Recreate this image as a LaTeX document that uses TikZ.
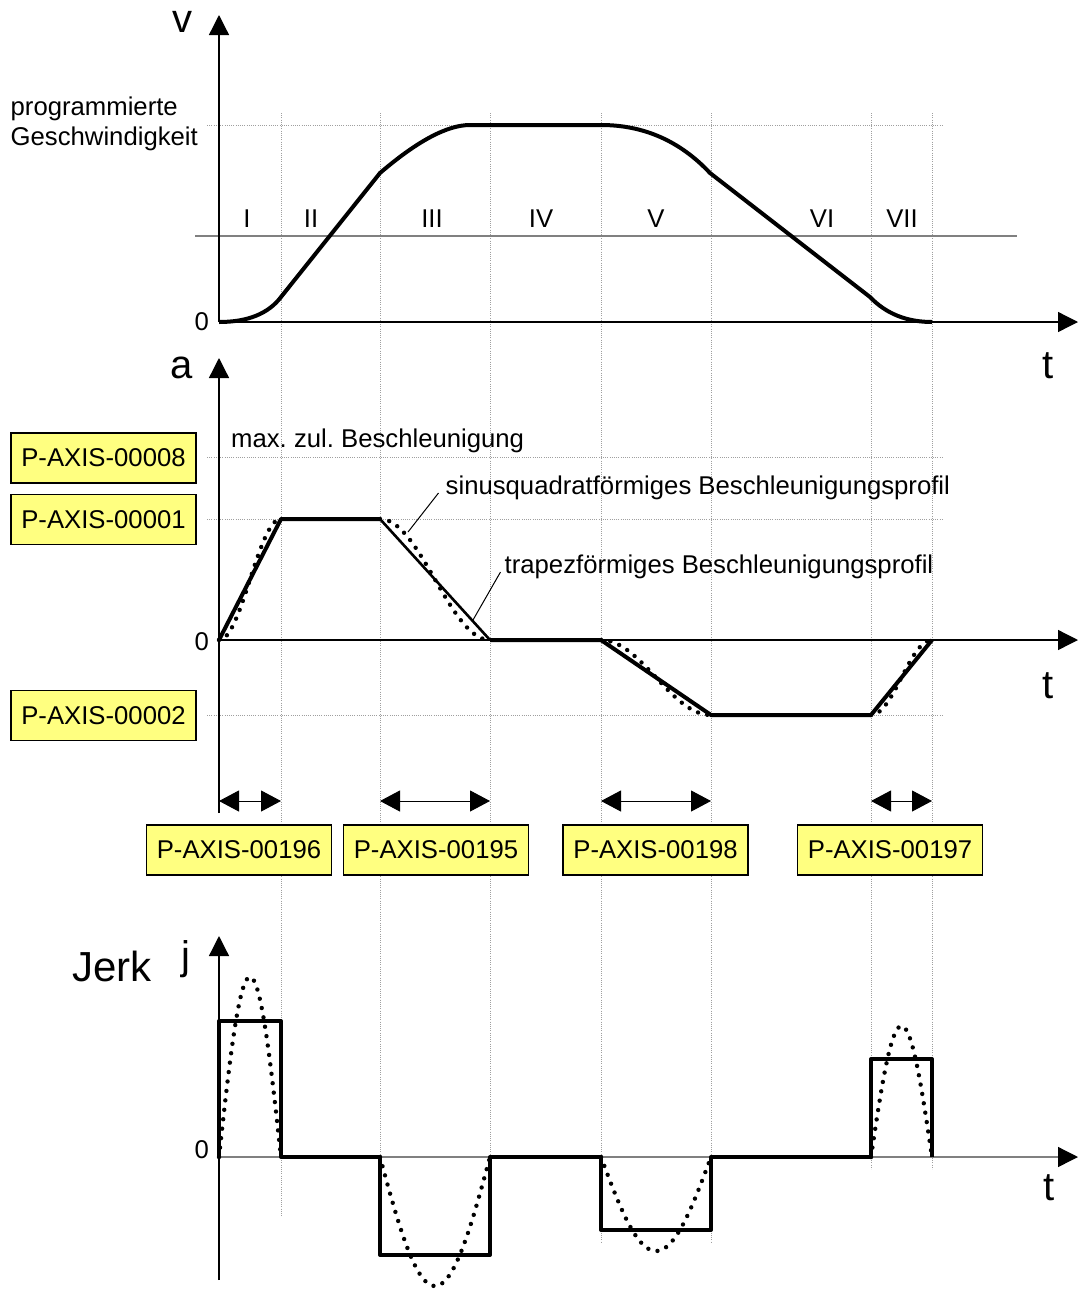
\documentclass[tikz,border=0pt]{standalone}
\usepackage{fontspec}
\setmainfont{Liberation Sans}
\usetikzlibrary{arrows.meta}
\definecolor{boxyellow}{RGB}{255,255,128}
\frenchspacing
\begin{document}
\begin{tikzpicture}[x=1bp,y=-1bp,
  txt/.style={font=\fontsize{25.7bp}{30bp}\selectfont, inner sep=0pt},
  big/.style={font=\fontsize{40bp}{48bp}\selectfont, inner sep=0pt},
  pbox/.style={draw=black, line width=1.2bp, fill=boxyellow, minimum width=185bp, minimum height=50bp, inner sep=0pt, font=\fontsize{25.7bp}{30bp}\selectfont},
  gridline/.style={gray!75, line width=0.8bp, dash pattern=on 1bp off 1.2bp},
  axisline/.style={line width=1.3bp, -{Triangle[length=20bp,width=20bp,color=black]}},
  heavy/.style={line width=4bp, line join=round},
  dots/.style={line width=4.4bp, line cap=round, dash pattern=on 0bp off 9.5bp},
  dimarr/.style={line width=1bp, {Triangle[length=20bp,width=21bp]}-{Triangle[length=20bp,width=21bp]}},
  leader/.style={line width=1bp}
]
\useasboundingbox (0,0) rectangle (1082,1289);

% vertical dotted grid lines
\foreach \gx/\ge in {281/1217,380/1255,490/1255,601/1243,711/1243,871/1169,932/1169}
  \draw[gridline] (\gx,113) -- (\gx,\ge);
% horizontal dotted lines
\coordinate (hA1) at (207,125); \coordinate (hA2) at (943,125);
\coordinate (hB1) at (207,457); \coordinate (hB2) at (943,457);
\coordinate (hC1) at (207,519); \coordinate (hC2) at (943,519);
\coordinate (hD1) at (207,715); \coordinate (hD2) at (943,715);
\draw[gridline] (hA1) -- (hA2);
\draw[gridline] (hB1) -- (hB2);
\draw[gridline] (hC1) -- (hC2);
\draw[gridline] (hD1) -- (hD2);
% gray mid line of v-diagram
\coordinate (g1) at (195,236); \coordinate (g2) at (1017,236);
\draw[gray, line width=1.5bp] (g1) -- (g2);

% axes
\coordinate (o1) at (219,322);
\coordinate (o2) at (219,640);
\coordinate (o3) at (219,1157);
\draw[axisline] (o1) -- (219,15);
\draw[axisline] (o1) -- (1078,322);
\draw[axisline] (219,813) -- (219,358);
\draw[axisline] (o2) -- (1078,640);
\draw[axisline] (219,1280) -- (219,936);
\draw[axisline, gray] (o3) -- (1078,1157);

% velocity curve
\draw[heavy] (219,322) .. controls (247.7,322) and (268.3,313.7) .. (281,297) -- (380,173)
  .. controls (417.3,141) and (447.3,125) .. (470,125) -- (601,125)
  .. controls (643.7,125) and (680,141) .. (710,173) -- (870,297)
  .. controls (886,313.7) and (906.7,322) .. (932,322);

% acceleration: trapezoid
\draw[heavy] (219,640) -- (281,519) -- (380,519);
\draw[line width=2.6bp] (380,519) -- (490,640);
\draw[heavy] (490,640) -- (601,640) -- (711,715) -- (871,715) -- (932,640);
% acceleration: sin^2
\draw[dots] plot[domain=0:1, samples=50] ({219+62*\x},{640-60.5*(1-cos(180*\x))});
\draw[dots] plot[domain=0:1, samples=50] ({380+110*\x},{519+60.5*(1-cos(180*\x))});
\draw[dots] plot[domain=0:1, samples=50] ({601+110*\x},{640+37.5*(1-cos(180*\x))});
\draw[dots] plot[domain=0:1, samples=50] ({871+61*\x},{715-37.5*(1-cos(180*\x))});

% jerk: rectangles
\draw[heavy] (219,1157) -- (219,1021) -- (281,1021) -- (281,1157) -- (380,1157)
  -- (380,1255) -- (490,1255) -- (490,1157) -- (601,1157) -- (601,1230)
  -- (711,1230) -- (711,1157) -- (871,1157) -- (871,1059) -- (932,1059) -- (932,1157);
% jerk: sine
\draw[dots] plot[domain=0:1, samples=50] ({219+62*\x},{1157-180*sin(180*\x)});
\draw[dots] plot[domain=0:1, samples=50] ({380+110*\x},{1157+129*sin(180*\x)});
\draw[dots] plot[domain=0:1, samples=50] ({601+110*\x},{1157+94*sin(180*\x)});
\draw[dots] plot[domain=0:1, samples=50] ({871+61*\x},{1157-131*sin(180*\x)});

% dimension arrows
\coordinate (d1a) at (219,801); \coordinate (d1b) at (281,801);
\coordinate (d2a) at (380,801); \coordinate (d2b) at (490,801);
\coordinate (d3a) at (601,801); \coordinate (d3b) at (711,801);
\coordinate (d4a) at (871,801); \coordinate (d4b) at (932,801);
\draw[dimarr] (d1a) -- (d1b);
\draw[dimarr] (d2a) -- (d2b);
\draw[dimarr] (d3a) -- (d3b);
\draw[dimarr] (d4a) -- (d4b);

% parameter boxes
\node[pbox] (p8) at (103.5,458) {P-AXIS-00008};
\node[pbox] (p1) at (103.5,519.5) {P-AXIS-00001};
\node[pbox] (p2) at (103.5,715.5) {P-AXIS-00002};
\node[pbox] (p196) at (239,850) {P-AXIS-00196};
\node[pbox] (p195) at (436,850) {P-AXIS-00195};
\node[pbox] (p198) at (655.5,850) {P-AXIS-00198};
\node[pbox] (p197) at (890,850) {P-AXIS-00197};

% axis labels
\node[big, anchor=base] (vlab) at (182,32) {v};
\node[big, anchor=base] (alab) at (182,378) {a};
\node[big, anchor=base] (t1) at (1048,378) {t};
\node[big, anchor=base] (t2) at (1048,698) {t};
\node[big, anchor=base] (t3) at (1049,1200) {t};
\node[big, anchor=base] (jlab) at (186,969) {j};
\node[font=\fontsize{42bp}{50bp}\selectfont, inner sep=0pt, anchor=base west] (jerk) at (72,981) {Jerk};
\node[txt, anchor=base east] (z1) at (209,330) {0};
\node[txt, anchor=base east] (z2) at (209,650) {0};
\node[txt, anchor=base east] (z3) at (209,1158) {0};

% phase numerals
\node[txt, anchor=base] (r1) at (247,227) {I};
\node[txt, anchor=base] (r2) at (311,227) {II};
\node[txt, anchor=base] (r3) at (432,227) {III};
\node[txt, anchor=base] (r4) at (541,227) {IV};
\node[txt, anchor=base] (r5) at (656,227) {V};
\node[txt, anchor=base] (r6) at (822,227) {VI};
\node[txt, anchor=base] (r7) at (902,227) {VII};

% descriptive texts
\node[txt, anchor=base west] (prog1) at (10.5,115) {programmierte};
\node[txt, anchor=base west] (prog2) at (10.5,145) {Geschwindigkeit};
\node[txt, anchor=base west] (maxzul) at (231,447) {max. zul. Beschleunigung};
\node[txt, anchor=base west] (sinus) at (445.5,494) {sinusquadratförmiges Beschleunigungsprofil};
\node[txt, anchor=base west] (trapez) at (504.5,573) {trapezförmiges Beschleunigungsprofil};

% leader lines
\coordinate (ls) at (408,532);
\coordinate (lt) at (473,620);
\draw[leader] (sinus.base west) ++(-7,-1) -- (ls);
\draw[leader] (trapez.base west) ++(-4,-1) -- (lt);
\end{tikzpicture}
\end{document}
